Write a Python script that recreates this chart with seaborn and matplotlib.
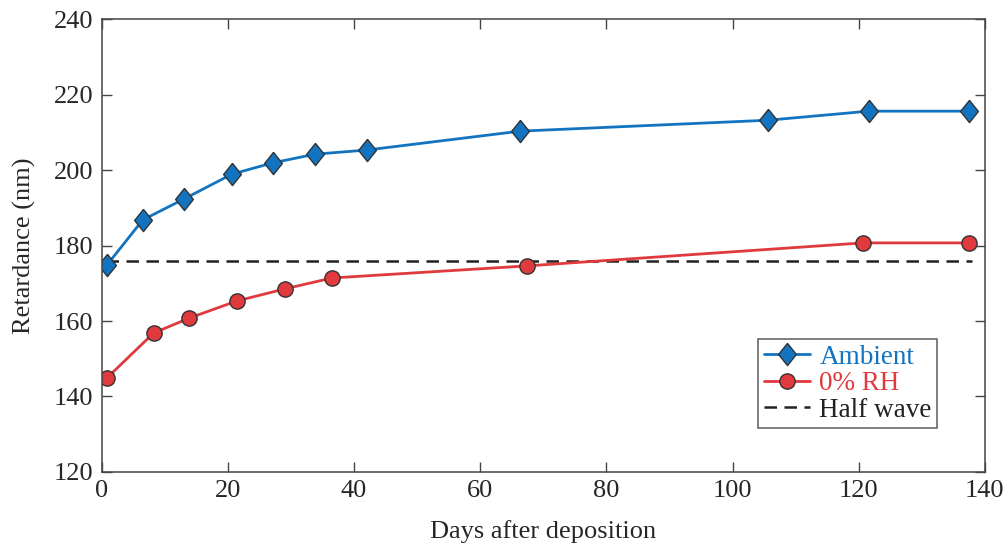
import pandas as pd
import matplotlib.pyplot as plt
import seaborn as sns

# values
ambient_days = [0.8, 6.5, 13.0, 20.6, 27.1, 33.8, 42.0, 66.3, 105.6, 121.6, 137.5]
ambient_ret = [174.8, 186.8, 192.3, 198.9, 201.9, 204.2, 205.3, 210.3, 213.2, 215.6, 215.6]
dry_days = [0.8, 8.2, 13.9, 21.4, 29.0, 36.5, 67.4, 120.7, 137.5]
dry_ret = [144.9, 156.8, 160.8, 165.3, 168.5, 171.4, 174.6, 180.7, 180.7]
half_wave = 175.9
x_ticks = [0, 20, 40, 60, 80, 100, 120, 140]
y_ticks = [120, 140, 160, 180, 200, 220, 240]

blue = '#1274c0'
red = '#e0393e'
diamond = [(0, 1), (0.8, 0), (0, -1), (-0.8, 0), (0, 1)]  # slightly tall diamond

sns.set_style('ticks')
plt.rcParams['font.family'] = ['Liberation Serif', 'DejaVu Serif']

df_amb = pd.DataFrame({'Days': ambient_days, 'Ret': ambient_ret})
df_dry = pd.DataFrame({'Days': dry_days, 'Ret': dry_ret})

fig = plt.figure(figsize=(10.08, 5.45), dpi=100)
ax = fig.add_axes([0.101, 0.134, 0.876, 0.831])

sns.lineplot(data=df_amb, x='Days', y='Ret', ax=ax, color=blue, lw=2,
             marker=diamond, markersize=16, markerfacecolor=blue,
             markeredgecolor='#333333', markeredgewidth=1, label='Ambient')
sns.lineplot(data=df_dry, x='Days', y='Ret', ax=ax, color=red, lw=2,
             marker='o', markersize=11, markerfacecolor=red,
             markeredgecolor='#333333', markeredgewidth=1, label='0% RH')
ax.axhline(half_wave, xmin=0.005, xmax=0.985, color='#222222', lw=1.8,
           linestyle=(0, (5, 3)), label='Half wave', zorder=1)

ax.set_xlim(0, 140)
ax.set_ylim(120, 240)
ax.set_xticks(x_ticks)
ax.set_yticks(y_ticks)
ax.tick_params(direction='in', length=7, width=1, labelsize=19, color='#444444',
               top=True, right=True, pad=6)
for s in ax.spines.values():
    s.set_linewidth(1.1)
    s.set_color('#444444')
ax.set_xlabel('Days after deposition', fontsize=19, labelpad=13)
ax.set_ylabel('Retardance (nm)', fontsize=19, labelpad=13)

leg = ax.legend(loc='lower right', bbox_to_anchor=(0.946, 0.097), fontsize=19.5,
                frameon=True, fancybox=False, edgecolor='#333333',
                handlelength=1.7, handletextpad=0.35, borderpad=0.2,
                labelspacing=0.05, borderaxespad=0)
leg.get_frame().set_linewidth(1.1)
for t, c in zip(leg.get_texts(), [blue, red, '#222222']):
    t.set_color(c)

fig.savefig('out.png', dpi=100)
